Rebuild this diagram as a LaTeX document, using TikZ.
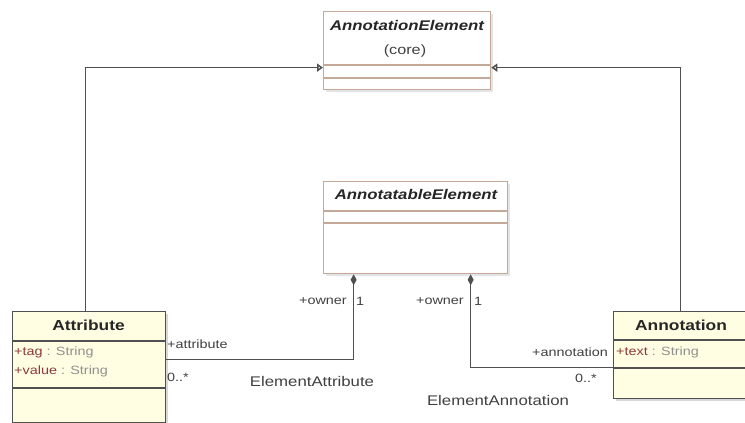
\documentclass[tikz,border=0pt]{standalone}
\usepackage{fontspec}
\setmainfont{Liberation Sans}[FakeStretch=1.2]
\usetikzlibrary{arrows.meta,shadows}
\definecolor{tanb}{HTML}{C4A898}
\definecolor{darkb}{HTML}{505050}
\definecolor{yel}{HTML}{FFFDE2}
\definecolor{attrred}{HTML}{8A3B3B}
\definecolor{attrgray}{HTML}{909090}
\definecolor{lbl}{HTML}{404040}
\tikzset{
  abstractbox/.style={draw=tanb, line width=1.3pt, fill=white, anchor=north west, inner sep=0pt, drop shadow={shadow xshift=2pt, shadow yshift=-2pt, fill=black!20}},
  classbox/.style={draw=darkb, line width=1.4pt, fill=yel, anchor=north west, inner sep=0pt, drop shadow={shadow xshift=2.5pt, shadow yshift=-2.5pt, fill=black!30}},
  conn/.style={draw=darkb, line width=1.5pt},
  gen/.style={conn, -{Triangle[open, length=6pt, width=8pt]}},
  comp/.style={conn, {Diamond[length=11pt, width=6pt]}-},
  lab/.style={font=\fontsize{12}{13}\selectfont, text=lbl, inner sep=1pt},
  assoc/.style={font=\fontsize{14}{15}\selectfont, text=lbl, inner sep=1pt},
  ctitle/.style={font=\fontsize{14.5}{16}\selectfont\bfseries, text=black!85},
  atitle/.style={font=\fontsize{14}{16}\selectfont\bfseries\itshape, text=black!85},
  attrtxt/.style={font=\fontsize{12}{13}\selectfont, anchor=west, inner sep=0pt},
  sepline/.style={line width=1.3pt},
}
\begin{document}
\begin{tikzpicture}[x=1pt,y=-1pt]
\useasboundingbox (0,0) rectangle (745,423);
\clip (0,0) rectangle (745,423);
% AnnotationElement
\node[abstractbox, minimum width=167pt, minimum height=78pt] (ae) at (323,11) {};
\draw[sepline, tanb] (ae.west |- 0,65) -- (ae.east |- 0,65);
\draw[sepline, tanb] (ae.west |- 0,78) -- (ae.east |- 0,78);
\node[atitle] (aet) at (407,25) {AnnotationElement};
\node[font=\fontsize{13.5}{15}\selectfont, text=black!75] (aec) at (405,51) {(core)};
% AnnotatableElement
\node[abstractbox, minimum width=184pt, minimum height=92pt] (ate) at (323,181) {};
\draw[sepline, tanb] (ate.west |- 0,211) -- (ate.east |- 0,211);
\draw[sepline, tanb] (ate.west |- 0,223) -- (ate.east |- 0,223);
\node[atitle] (atet) at (416,194) {AnnotatableElement};
% Attribute
\node[classbox, minimum width=153pt, minimum height=111pt] (attr) at (12,311) {};
\draw[sepline, darkb] (attr.west |- 0,341) -- (attr.east |- 0,341);
\draw[sepline, darkb] (attr.west |- 0,388) -- (attr.east |- 0,388);
\node[ctitle] (attrt) at (88.5,325) {Attribute};
\node[attrtxt] (a1) at (14,352.5) {\textcolor{attrred}{+tag}\textcolor{attrgray}{\ : String}};
\node[attrtxt] (a2) at (14,371) {\textcolor{attrred}{+value}\textcolor{attrgray}{\ : String}};
% Annotation
\node[classbox, minimum width=150pt, minimum height=87pt] (ann) at (613,311) {};
\draw[sepline, darkb] (ann.west |- 0,340) -- (ann.east |- 0,340);
\draw[sepline, darkb] (ann.west |- 0,368) -- (ann.east |- 0,368);
\node[ctitle] (annt) at (681,325) {Annotation};
\node[attrtxt] (t1) at (616,352.5) {\textcolor{attrred}{+text}\textcolor{attrgray}{\ : String}};
% Generalizations
\draw[gen] ([xshift=-3.5pt]attr.north) |- ([yshift=-17pt]ae.west);
\draw[gen] ([xshift=-8pt]ann.north) |- ([yshift=-17pt]ae.east);
% Compositions
\draw[comp] ([xshift=-62pt]ate.south) |- ([yshift=7.5pt]attr.east);
\draw[comp] ([xshift=55pt]ate.south) |- ([yshift=-12.5pt]ann.west);
% Labels
\node[lab, anchor=east] (o1) at (348,301) {+owner};
\node[lab, anchor=west] (m1) at (355,301) {1};
\node[lab, anchor=east] (o2) at (465,301) {+owner};
\node[lab, anchor=west] (m2) at (473,301) {1};
\node[lab, anchor=west] (r1) at (166,344) {+attribute};
\node[lab, anchor=west] (c1) at (166,377) {0..*};
\node[lab, anchor=east] (r2) at (609,352) {+annotation};
\node[lab, anchor=east] (c2) at (598,378) {0..*};
\node[assoc] (n1) at (312,381) {ElementAttribute};
\node[assoc] (n2) at (498,400) {ElementAnnotation};
\end{tikzpicture}
\end{document}
